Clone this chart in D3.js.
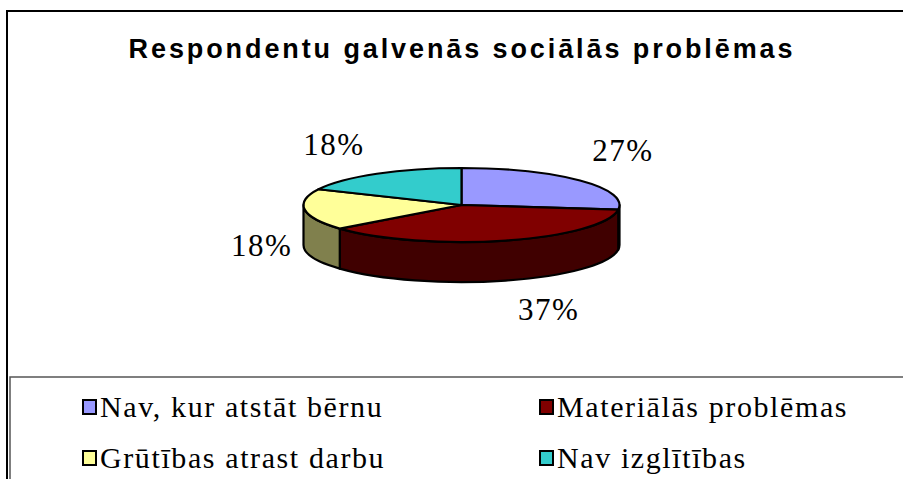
<!DOCTYPE html>
<html>
<head>
<meta charset="utf-8">
<script src="https://cdn.jsdelivr.net/npm/d3@7"></script>
<style>
  body { margin: 0; background: #fff; }
  svg { display: block; }
</style>
</head>
<body>
<svg id="chart"></svg>
<script>
// data
const categories = ['Nav, kur atstāt bērnu', 'Materiālās problēmas', 'Grūtības atrast darbu', 'Nav izglītības'];
const values = [27, 37, 18, 18];
const labels = ['27%', '37%', '18%', '18%'];
const colors = ['#9999ff', '#800000', '#ffff99', '#33cccc'];
const title = 'Respondentu galvenās sociālās problēmas';

const SERIF = '"Liberation Serif", "Times New Roman", serif';

class Pie3D {
    constructor (config) {
        this.config = {
            parent: config.parent,
            width: config.width || 903,
            height: config.height || 479,
            cx: config.cx, cy: config.cy,
            rx: config.rx, ry: config.ry,
            depth: config.depth
        };
        this.init();
    }

    init() {
        let self = this;
        self.svg = d3.select(self.config.parent)
            .attr('width', self.config.width)
            .attr('height', self.config.height);

        // outer frame and legend box
        self.svg.append('rect')
            .attr('x', 7).attr('y', 11)
            .attr('width', 930).attr('height', 500)
            .attr('fill', 'none').attr('stroke', '#000').attr('stroke-width', 2);
        self.svg.append('rect')
            .attr('x', 10).attr('y', 377)
            .attr('width', 930).attr('height', 200)
            .attr('fill', 'none').attr('stroke', '#555').attr('stroke-width', 1.5);

        self.svg.append('text')
            .attr('x', 462).attr('y', 58)
            .attr('text-anchor', 'middle')
            .attr('font-family', '"Liberation Sans", Arial, sans-serif')
            .attr('font-weight', 'bold')
            .attr('font-size', 27)
            .attr('letter-spacing', 2.9)
            .text(title);

        self.pie = d3.pie().sort(null).value(d => d);
        self.arcs = self.pie(values);
    }

    pt(a, dy) {
        const c = this.config;
        return [c.cx + c.rx * Math.sin(a), c.cy - c.ry * Math.cos(a) + (dy || 0)];
    }

    topPath(d) {
        const c = this.config;
        const p0 = this.pt(d.startAngle), p1 = this.pt(d.endAngle);
        const large = d.endAngle - d.startAngle > Math.PI ? 1 : 0;
        return `M${c.cx},${c.cy}L${p0}A${c.rx},${c.ry} 0 ${large} 1 ${p1}Z`;
    }

    sidePath(d) {
        const c = this.config;
        const a0 = Math.max(d.startAngle, Math.PI / 2);
        const a1 = Math.min(d.endAngle, Math.PI * 1.5);
        if (a1 <= a0) return null;
        const t0 = this.pt(a0), t1 = this.pt(a1);
        const b0 = this.pt(a0, c.depth), b1 = this.pt(a1, c.depth);
        return `M${t0}A${c.rx},${c.ry} 0 0 1 ${t1}L${b1}A${c.rx},${c.ry} 0 0 0 ${b0}Z`;
    }

    render() {
        let self = this;
        const c = self.config;
        const sides = self.arcs.filter(d => self.sidePath(d));

        // side walls are half as bright as the tops
        self.svg.append('g').selectAll('path')
            .data(sides)
            .join('path')
            .attr('d', d => self.sidePath(d))
            .attr('fill', d => d3.color(colors[d.index]).darker(1.94))
            .attr('stroke', '#000').attr('stroke-width', 2.2)
            .attr('stroke-linejoin', 'round');

        self.svg.append('g').selectAll('path')
            .data(self.arcs)
            .join('path')
            .attr('d', d => self.topPath(d))
            .attr('fill', d => colors[d.index])
            .attr('stroke', '#000').attr('stroke-width', 2.2)
            .attr('stroke-linejoin', 'round');

        // data labels outside the slices
        self.svg.append('g').selectAll('text')
            .data(self.arcs)
            .join('text')
            .each(function(d) {
                const m = (d.startAngle + d.endAngle) / 2;
                const p = self.pt(m, c.depth * Math.max(0, -Math.cos(m)));
                const x = p[0] + 43 * Math.sign(Math.sin(m));
                const y = p[1] + 30 * Math.sign(-Math.cos(m));
                d3.select(this).attr('x', x).attr('y', y);
            })
            .attr('dy', '0.35em')
            .attr('text-anchor', 'middle')
            .attr('font-family', SERIF)
            .attr('font-size', 31)
            .attr('letter-spacing', 1.5)
            .text((d, i) => labels[i]);

        // legend
        const lx = d3.scaleOrdinal().domain([0, 1]).range([83, 540]);
        const ly = d3.scaleOrdinal().domain([0, 1]).range([407, 458]);
        const lg = self.svg.append('g').selectAll('g')
            .data(categories)
            .join('g')
            .attr('transform', (d, i) => `translate(${lx(i % 2)}, ${ly(Math.floor(i / 2))})`);
        lg.append('rect')
            .attr('x', 0).attr('y', -7)
            .attr('width', 13).attr('height', 14)
            .attr('fill', (d, i) => colors[i])
            .attr('stroke', '#000').attr('stroke-width', 2);
        lg.append('text')
            .attr('x', 17).attr('y', 10)
            .attr('font-family', SERIF)
            .attr('font-size', 30)
            .attr('letter-spacing', 1.6)
            .text(d => d);
    }
}

const chart = new Pie3D({
    parent: '#chart', width: 903, height: 479,
    cx: 461.5, cy: 205, rx: 158, ry: 37, depth: 40
});
chart.render();
</script>
</body>
</html>
